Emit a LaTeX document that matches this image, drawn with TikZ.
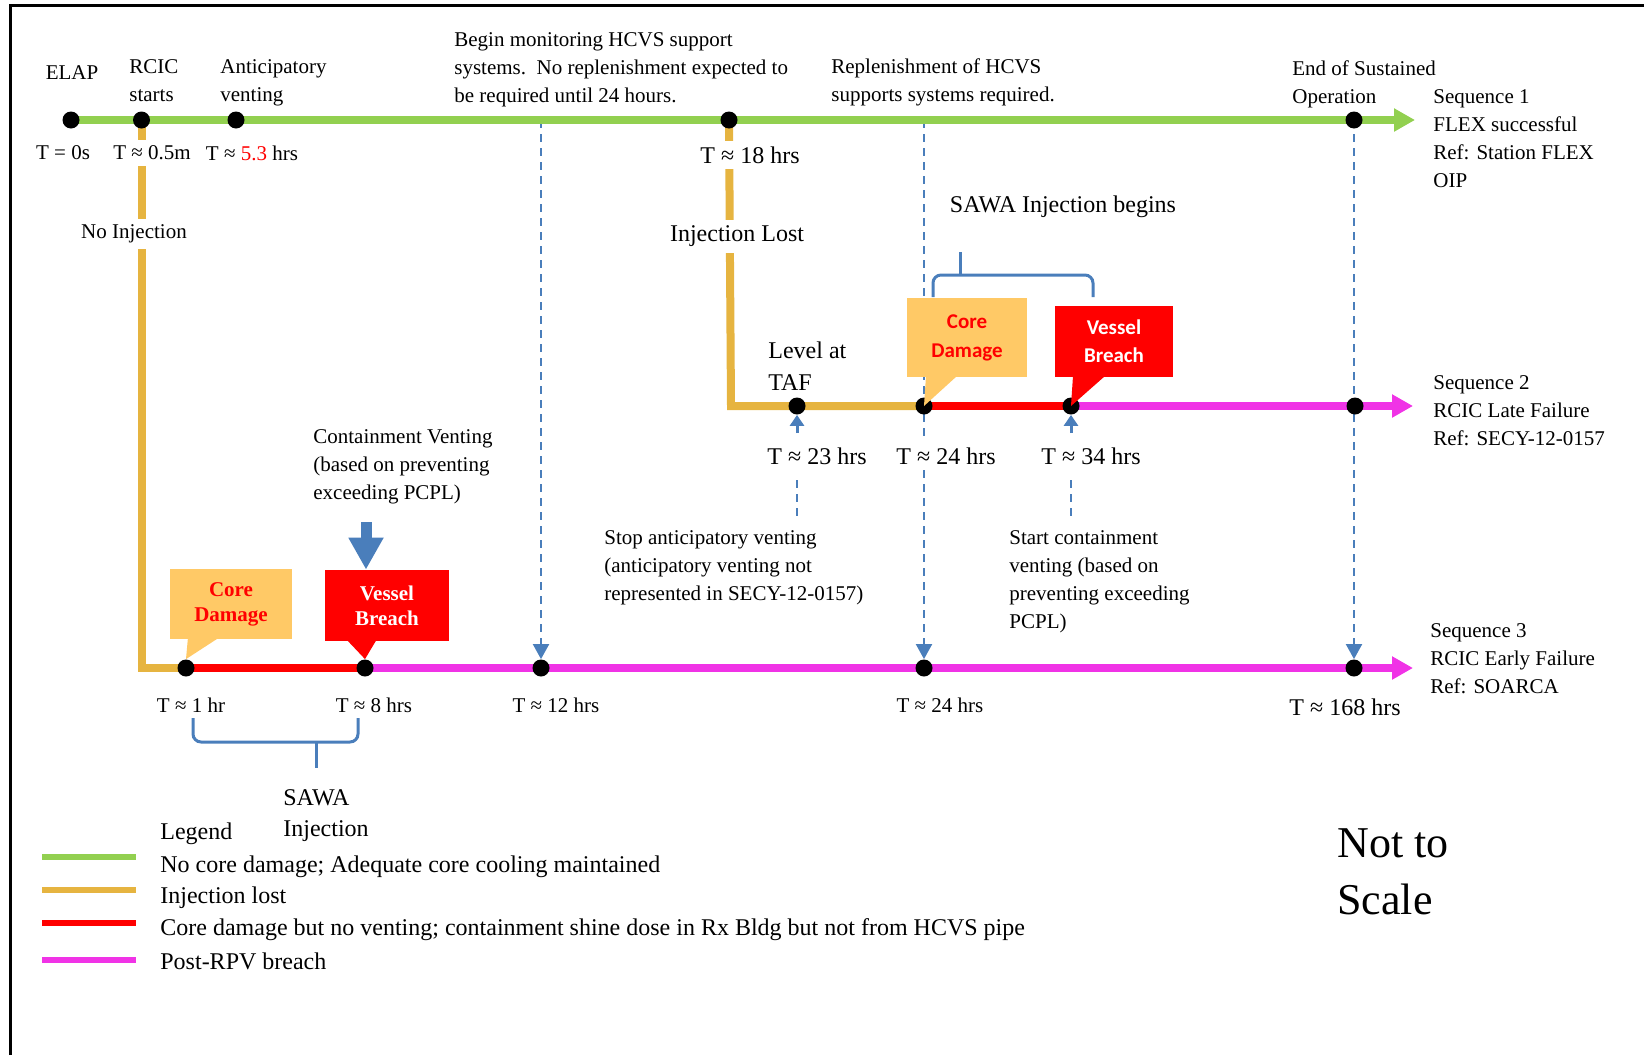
\documentclass[tikz,border=0pt]{standalone}
\usepackage{fontspec}
\setmainfont{Liberation Serif}
\newfontfamily\calibfont{Carlito}
\usetikzlibrary{arrows.meta,backgrounds}
\definecolor{seqgreen}{HTML}{92D050}
\definecolor{injorange}{HTML}{E6B440}
\definecolor{postmag}{HTML}{F033E6}
\definecolor{hcvsblue}{HTML}{4A7EBB}
\definecolor{coreorange}{HTML}{FFC966}
\begin{document}
\begin{tikzpicture}[x=0.5pt,y=-0.5pt,
    every node/.style={inner sep=1pt},
    txt/.style={font=\fontsize{10.5}{14}\selectfont, align=left},
    bigtxt/.style={font=\fontsize{12}{15.5}\selectfont, align=left},
    onwhite/.style={fill=white, inner sep=3pt},
    dot/.style={circle, fill=black, inner sep=0pt, minimum size=8.5pt},
    seqline/.style={line width=4pt},
    seqarrow/.style={seqline, -{Triangle[length=10.5pt,width=11pt]}},
    vline/.style={draw=hcvsblue, line width=1pt, dash pattern=on 4pt off 3pt},
    vdash/.style={vline, -{Triangle[length=7.5pt,width=8pt]}},
    upline/.style={draw=hcvsblue, line width=1.5pt, -{Triangle[length=5.5pt,width=7pt]}},
    brace/.style={draw=hcvsblue, line width=1.5pt, rounded corners=4pt},
    cdbox/.style={fill=coreorange, text=red, align=center, inner sep=0pt},
    vbbox/.style={fill=red, text=white, align=center, inner sep=0pt}]
    \useasboundingbox (0,0) rectangle (1644,1055);
    %frame
    \draw[line width=1.5pt] (10,1055) -- (10,5) -- (1644,5);
    %dots of the three sequences
    \node[dot] (e0) at (71,120) {};
    \node[dot] (e1) at (141.5,120) {};
    \node[dot] (e2) at (236,120) {};
    \node[dot] (e3) at (729,120) {};
    \node[dot] (e4) at (1354,120) {};
    \node[dot] (l1) at (797,406) {};
    \node[dot] (l2) at (924,406) {};
    \node[dot] (l3) at (1071,406) {};
    \node[dot] (l4) at (1355,406) {};
    \node[dot] (s1) at (186,668) {};
    \node[dot] (s2) at (365,668) {};
    \node[dot] (s3) at (541,668) {};
    \node[dot] (s4) at (924,668) {};
    \node[dot] (s5) at (1354,668) {};
    \coordinate (e5) at (1415,120);
    \coordinate (c2) at (731,406);
    \coordinate (l5) at (1413,406);
    \coordinate (c3) at (141.5,668);
    \coordinate (s6) at (1413,668);
    \coordinate (d1) at (541,120);
    \coordinate (d2) at (924,120);
    %coloured lines and dashed lines behind the dots
    \begin{scope}[on background layer]
    \draw[vdash] (d1) -- (s3.north);
    \draw[vdash] (d2) -- (s4.north);
    \draw[vdash] (e4.center) -- (s5.north);
    \draw[seqarrow, seqgreen] (e0.center) -- (e5);
    \draw[seqline, injorange] (e1.center) -- (c3) -- (s1.center);
    \draw[seqline, red] (s1.center) -- (s2.center);
    \draw[seqarrow, postmag] (s2.center) -- (s6);
    \draw[seqline, injorange] (e3.center) -- (c2) -- (l2.center);
    \draw[seqline, red] (l2.center) -- (l3.center);
    \draw[seqarrow, postmag] (l3.center) -- (l5);
    \end{scope}
    %labels of sequence 1
    \node[txt] (elap) at (72,73) {ELAP};
    \node[txt, anchor=west] (rcic) at (127,81) {RCIC\\starts};
    \node[txt, anchor=west] (antic) at (218,82.5) {Anticipatory\\venting};
    \node[txt, anchor=west] (monit) at (452,70) {Begin monitoring HCVS support\\systems.\ \ No replenishment expected to\\be required until 24 hours.};
    \node[txt, anchor=west] (replen) at (829,82.5) {Replenishment of HCVS\\supports systems required.};
    \node[txt, anchor=west] (endop) at (1290,84) {End of Sustained\\Operation};
    \node[txt, anchor=west] (seq1) at (1431,138.5) {Sequence 1\\FLEX successful\\Ref: Station FLEX\\OIP};
    \node[txt] (t0) at (63,153) {T = 0s};
    \node[txt, onwhite] (t05) at (152,153) {T ≈ 0.5m};
    \node[txt] (t53) at (252,153) {T ≈ \textcolor{red}{5.3} hrs};
    \node[bigtxt, onwhite] (t18) at (750,155) {T ≈ 18 hrs};
    \node[txt, onwhite] (noinj) at (134,234) {No Injection};
    \node[bigtxt, onwhite] (injlost) at (737,236) {Injection Lost};
    %labels and callouts of sequence 2
    \node[bigtxt, anchor=west, font=\fontsize{12}{15.7}\selectfont] (taf) at (766,366) {Level at\\TAF};
    \node[bigtxt] (sawab) at (1063,207) {SAWA Injection begins};
    \draw[brace] (933,297) -- (933,275) -- (1093,275) -- (1093,297);
    \draw[brace] (960,275) -- (960,252);
    \fill[coreorange] (926,376) -- (957,376) -- (l2.center) -- cycle;
    \node[cdbox, minimum width=60pt, minimum height=39.5pt, font=\calibfont\bfseries\fontsize{10.5}{14.5}\selectfont] (cd2) at (967,337.5) {Core\\Damage};
    \fill[red] (1073,376) -- (1105,376) -- (l3.center) -- cycle;
    \node[vbbox, minimum width=59pt, minimum height=35.5pt, font=\calibfont\bfseries\fontsize{10.5}{14}\selectfont] (vb2) at (1114,341.5) {Vessel\\Breach};
    \node[bigtxt, onwhite] (t23) at (817,456) {T ≈ 23 hrs};
    \node[bigtxt, onwhite] (t24a) at (946,456) {T ≈ 24 hrs};
    \node[bigtxt, onwhite] (t34) at (1091,456) {T ≈ 34 hrs};
    \draw[upline] (797,433) -- (l1.south);
    \draw[upline] (1071,433) -- (l3.south);
    \draw[vline] (797,480) -- (797,517);
    \draw[vline] (1071,480) -- (1071,517);
    \node[txt, anchor=west] (stopv) at (602,567.5) {Stop anticipatory venting\\(anticipatory venting not\\represented in SECY-12-0157)};
    \node[txt, anchor=west] (startv) at (1007,582) {Start containment\\venting (based on\\preventing exceeding\\PCPL)};
    \node[txt, anchor=west] (seq2) at (1431,411) {Sequence 2\\RCIC Late Failure\\Ref: SECY-12-0157};
    %labels and callouts of sequence 3
    \node[txt, anchor=west] (contv) at (311,467) {Containment Venting\\(based on preventing\\exceeding PCPL)};
    \fill[coreorange] (188,637) -- (220,637) -- (s1.north) -- cycle;
    \node[cdbox, minimum width=61.25pt, minimum height=34.75pt, font=\bfseries\fontsize{10.5}{12.5}\selectfont] (cd3) at (231,604) {Core\\Damage};
    \fill[red] (346,639) -- (377,639) -- (s2.north) -- cycle;
    \node[vbbox, minimum width=62pt, minimum height=35.5pt, font=\bfseries\fontsize{10.5}{12.5}\selectfont] (vb3) at (387,605.5) {Vessel\\Breach};
    \coordinate (ventin) at (366,522);
    \draw[draw=hcvsblue, line width=5.5pt, -{Triangle[length=16pt,width=16.5pt]}] (ventin) -- (ventin |- vb3.north);
    \node[txt] (t1) at (191,705) {T ≈ 1 hr};
    \node[txt] (t8) at (374,705) {T ≈ 8 hrs};
    \node[txt] (t12) at (556,705) {T ≈ 12 hrs};
    \node[txt] (t24b) at (940,705) {T ≈ 24 hrs};
    \node[bigtxt] (t168) at (1345,707) {T ≈ 168 hrs};
    \node[txt, anchor=west] (seq3) at (1428,659) {Sequence 3\\RCIC Early Failure\\Ref: SOARCA};
    \draw[brace] (193,718) -- (193,742) -- (358,742) -- (358,718);
    \draw[brace] (316,742) -- (316,768);
    \node[bigtxt, anchor=west] (sawa) at (281,816) {SAWA\\Injection};
    %legend
    \node[bigtxt, anchor=west] (legend) at (158,834) {Legend};
    \draw[line width=3pt, seqgreen] (42,857) -- (136,857);
    \draw[line width=3pt, injorange] (42,890) -- (136,890);
    \draw[line width=3pt, red] (42,923) -- (136,923);
    \draw[line width=3pt, postmag] (42,960) -- (136,960);
    \node[bigtxt, anchor=west] (lg1) at (158,867) {No core damage; Adequate core cooling maintained};
    \node[bigtxt, anchor=west] (lg2) at (158,898) {Injection lost};
    \node[bigtxt, anchor=west] (lg3) at (158,930) {Core damage but no venting; containment shine dose in Rx Bldg but not from HCVS pipe};
    \node[bigtxt, anchor=west] (lg4) at (158,961) {Post-RPV breach};
    \node[anchor=west, align=left, font=\fontsize{22}{28.5}\selectfont] (nts) at (1335,872) {Not to\\Scale};
\end{tikzpicture}
\end{document}
